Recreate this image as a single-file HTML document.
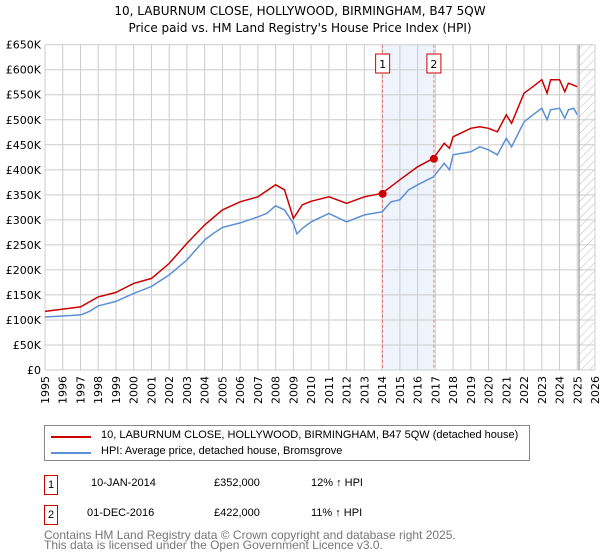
<!DOCTYPE html>
<html><head><meta charset="utf-8"><style>
body{margin:0;width:600px;height:560px;background:#fff;font-family:"Liberation Sans","DejaVu Sans",sans-serif;position:relative;overflow:hidden}
.t{position:absolute;white-space:nowrap;font-size:11px;color:#000}
</style></head><body>
<svg id="chart" width="600" height="420" style="position:absolute;left:0;top:0" font-family="DejaVu Sans, Liberation Sans, sans-serif">
<defs><pattern id="hatch" width="6" height="6" patternUnits="userSpaceOnUse" patternTransform="rotate(45)"><line x1="0" y1="0" x2="0" y2="6" stroke="#bbb" stroke-width="1"/></pattern></defs>
<text x="300" y="15" text-anchor="middle" font-size="12">10, LABURNUM CLOSE, HOLLYWOOD, BIRMINGHAM, B47 5QW</text>
<text x="300" y="32" text-anchor="middle" font-size="12">Price paid vs. HM Land Registry's House Price Index (HPI)</text>
<g id="grid"></g><g id="marks"></g><g id="axes"></g>
</svg>
<div style="position:absolute;left:44px;top:425px;width:486px;height:36px;border:1px solid #888;box-sizing:border-box">
<div><div style="position:absolute;left:6px;top:10px;width:40px;height:2px;background:#cc0000"></div><span class="t" style="left:56px;top:3px">10, LABURNUM CLOSE, HOLLYWOOD, BIRMINGHAM, B47 5QW (detached house)</span></div>
<div><div style="position:absolute;left:6px;top:26px;width:40px;height:2px;background:#5b8fd6"></div><span class="t" style="left:56px;top:19px">HPI: Average price, detached house, Bromsgrove</span></div>
</div>
<div>
<div style="position:absolute;left:44px;top:475px;width:14px;height:20px;border:1px solid #cc0000;box-sizing:border-box;font-size:11px;text-align:center;line-height:18px">1</div>
<span class="t" style="left:91px;top:477px">10-JAN-2014</span><span class="t" style="left:214px;top:477px">£352,000</span><span class="t" style="left:311px;top:477px">12% ↑ HPI</span></div>
<div>
<div style="position:absolute;left:44px;top:505px;width:14px;height:20px;border:1px solid #cc0000;box-sizing:border-box;font-size:11px;text-align:center;line-height:18px">2</div>
<span class="t" style="left:87px;top:507px">01-DEC-2016</span><span class="t" style="left:214px;top:507px">£422,000</span><span class="t" style="left:311px;top:507px">11% ↑ HPI</span></div>
<div class="t" style="left:44px;top:530px;color:#777;line-height:10px;font-size:12px">Contains HM Land Registry data © Crown copyright and database right 2025.<br>This data is licensed under the Open Government Licence v3.0.</div>
<script>
const hpiYears=[1995,1996,1997,1997.5,1998,1999,2000,2001,2002,2003,2003.5,2004,2004.5,2005,2006,2007,2007.5,2008,2008.5,2009,2009.2,2009.5,2010,2011,2012,2013,2014,2014.5,2015,2015.5,2016,2016.9,2017.5,2017.8,2018,2019,2019.5,2020,2020.5,2021,2021.3,2022,2022.5,2023,2023.3,2023.5,2024,2024.3,2024.5,2024.8,2025];
const hpiValues=[106,108,110,117,128,137,153,167,190,220,240,260,273,285,294,306,313,328,320,293,272,283,296,313,296,310,316,336,340,360,370,386,413,400,430,436,446,440,430,463,446,496,510,523,500,520,523,503,520,523,510];
const propYears=[1995,1997,1998,1999,2000,2001,2002,2003,2004,2005,2006,2007,2008,2008.5,2009,2009.5,2010,2011,2012,2013,2014,2015,2016,2016.9,2017.5,2017.8,2018,2019,2019.5,2020,2020.5,2021,2021.3,2022,2022.5,2023,2023.3,2023.5,2024,2024.3,2024.5,2025];
const propValues=[117,126,146,155,173,183,213,253,290,320,336,346,370,360,303,330,337,346,333,346,353,380,406,423,453,443,466,483,486,483,476,510,493,553,566,580,553,580,580,556,573,566];
const saleYears=[2014.03,2016.92];
const saleValues=[352,422];
const saleLabels=["1","2"];
const yTicks=[0,50,100,150,200,250,300,350,400,450,500,550,600,650];
const xTicks=[1995,1996,1997,1998,1999,2000,2001,2002,2003,2004,2005,2006,2007,2008,2009,2010,2011,2012,2013,2014,2015,2016,2017,2018,2019,2020,2021,2022,2023,2024,2025,2026];
const X0=45,X1=595,Y0=370,Y1=44.7;
const xs=y=>X0+(y-1995)/(2026-1995)*(X1-X0);
const ys=v=>Y0-v/650*(Y0-Y1);
const NS="http://www.w3.org/2000/svg";
function mk(p,t,a){const e=document.createElementNS(NS,t);for(const k in a)e.setAttribute(k,a[k]);p.appendChild(e);return e;}
const grid=document.getElementById('grid'),marks=document.getElementById('marks'),axes=document.getElementById('axes');
const band=mk(grid,'rect',{x:xs(saleYears[0]),y:Y1,width:xs(saleYears[1])-xs(saleYears[0]),height:Y0-Y1,fill:'#eef3fc'});


const hz=mk(grid,'rect',{x:xs(2025.1),y:Y1,width:X1-xs(2025.1),height:Y0-Y1,fill:'url(#hatch)'});


yTicks.forEach(v=>{mk(grid,'line',{x1:X0,x2:X1,y1:ys(v),y2:ys(v),stroke:'#ccc'});
const t=mk(axes,'text',{x:X0-4,y:ys(v)+4,'text-anchor':'end','font-size':11});t.textContent=v===0?'£0':'£'+v+'K';

});
xTicks.forEach(y=>{mk(grid,'line',{x1:xs(y),x2:xs(y),y1:Y1,y2:Y0,stroke:'#ccc'});
const t=mk(axes,'text',{x:0,y:0,'text-anchor':'end','font-size':11,transform:`translate(${xs(y)+4},${Y0+6}) rotate(-90)`});t.textContent=y;

});
mk(grid,'line',{x1:xs(2025.1),x2:xs(2025.1),y1:Y1,y2:Y0,stroke:'#888'});
saleYears.forEach((y,i)=>{mk(marks,'line',{x1:xs(y),x2:xs(y),y1:Y1,y2:Y0,stroke:'#e06060','stroke-dasharray':'3,2','stroke-width':0.8});
const b=mk(axes,'g',{});


mk(b,'rect',{x:xs(y)-7,y:54,width:14,height:19,fill:'#fff',stroke:'#cc0000'});
const t=mk(b,'text',{x:xs(y),y:68,'text-anchor':'middle','font-size':11});t.textContent=saleLabels[i];});
function line(xa,va,c,n){const p=mk(marks,'path',{d:xa.map((y,i)=>(i?'L':'M')+xs(y).toFixed(1)+','+ys(va[i]).toFixed(1)).join(''),fill:'none',stroke:c,'stroke-width':1.5});

}
line(hpiYears,hpiValues,'#5b8fd6','hpi-line');
line(propYears,propValues,'#cc0000','property-line');
saleYears.forEach((y,i)=>{const c=mk(marks,'circle',{cx:xs(y),cy:ys(saleValues[i]),r:4,fill:'#cc0000'});

});
</script>
</body></html>
